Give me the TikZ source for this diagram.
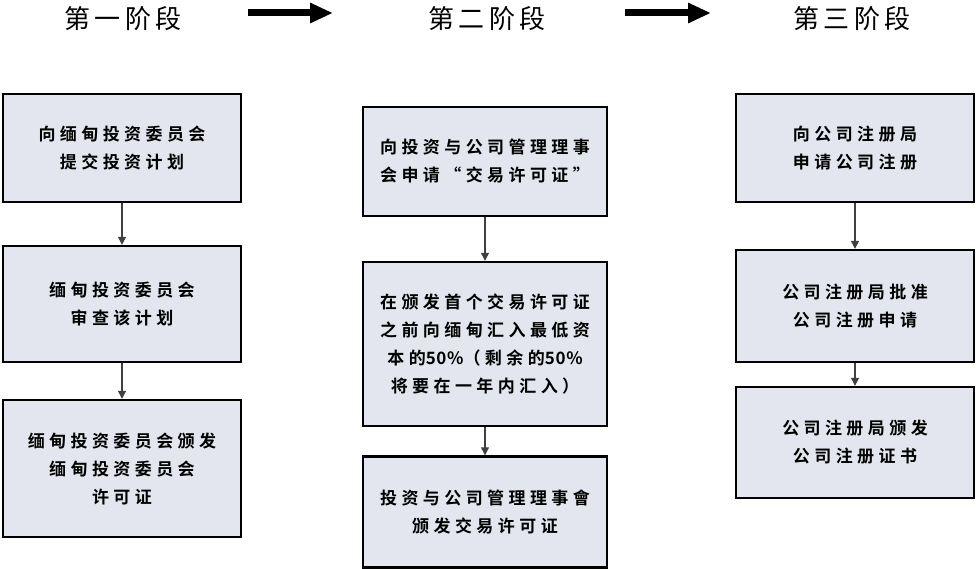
\documentclass[tikz,border=0pt]{standalone}
\usepackage{fontspec}
\newfontfamily\hfont[LetterSpace=17]{Noto Sans CJK SC}
\newfontfamily\bfont[LetterSpace=26]{Noto Sans CJK SC Bold}
\newfontfamily\nfont[LetterSpace=4]{Noto Sans CJK SC Bold}
\usetikzlibrary{arrows.meta}
\definecolor{boxfill}{HTML}{E3E6EE}
\begin{document}
\begin{tikzpicture}[x=1pt,y=-1pt,
 stage/.style={font=\hfont\fontsize{26}{30}\selectfont, inner sep=0pt},
 box/.style={draw=black, line width=2.4pt, fill=boxfill, align=center,
   font=\bfont\fontsize{17}{28}\selectfont, inner sep=0pt},
 link/.style={draw=black!75, line width=1.2pt, -{Triangle[width=8pt,length=8pt]}},
 bigarrow/.style={line width=7pt, -{Triangle[width=19pt,length=23pt]}}
]
\useasboundingbox (0,0) rectangle (976,569);

% headers
\node[stage] (h1) at (123,18.5) {第一阶段};
\node[stage] (h2) at (487,18.5) {第二阶段};
\node[stage] (h3) at (852,18.5) {第三阶段};

\coordinate (a1s) at (248,13);
\coordinate (a1e) at (333,13);
\coordinate (a2s) at (625,13);
\coordinate (a2e) at (711,13);
\draw[bigarrow] (a1s) -- (a1e);
\draw[bigarrow] (a2s) -- (a2e);

% column 1
\node[box, minimum width=238pt, minimum height=108pt] (c1a) at (122,148)
  {向缅甸投资委员会\\提交投资计划};
\node[box, minimum width=238pt, minimum height=116pt] (c1b) at (122,304)
  {缅甸投资委员会\\审查该计划};
\node[box, minimum width=238pt, minimum height=137pt] (c1c) at (122,468.5)
  {缅甸投资委员会颁发\\缅甸投资委员会\\许可证};

% column 2
\node[box, minimum width=244pt, minimum height=109pt] (c2a) at (485,161.5)
  {向投资与公司管理理事\\会申请“交易许可证”};
\node[box, minimum width=244pt, minimum height=164pt] (c2b) at (485,344)
  {在颁发首个交易许可证\\之前向缅甸汇入最低资\\本的{\nfont 50\%}（剩余的{\nfont 50\%}\\将要在一年内汇入）};
\node[box, minimum width=244pt, minimum height=111pt] (c2c) at (485,512)
  {投资与公司管理理事會\\颁发交易许可证};

% column 3
\node[box, minimum width=238pt, minimum height=108pt] (c3a) at (855,148)
  {向公司注册局\\申请公司注册};
\node[box, minimum width=238pt, minimum height=112pt] (c3b) at (855,306)
  {公司注册局批准\\公司注册申请};
\node[box, minimum width=238pt, minimum height=111pt] (c3c) at (855,442.5)
  {公司注册局颁发\\公司注册证书};

\draw[link] (c1a) -- (c1b);
\draw[link] (c1b) -- (c1c);
\draw[link] (c2a) -- (c2b);
\draw[link] (c2b) -- (c2c);
\draw[link] (c3a) -- (c3b);
\draw[link] (c3b) -- (c3c);
\end{tikzpicture}
\end{document}
